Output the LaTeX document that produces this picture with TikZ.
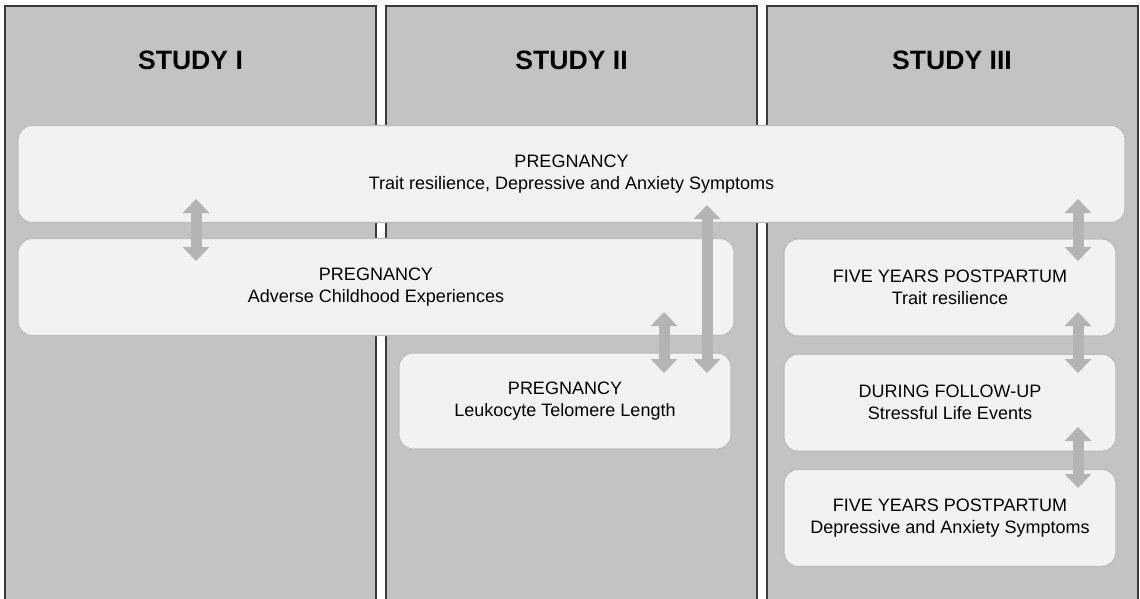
\documentclass[tikz,border=0pt]{standalone}
\usepackage{fontspec}
\setmainfont{Liberation Sans}
\usetikzlibrary{positioning, arrows.meta, calc}
\definecolor{colfill}{HTML}{C3C3C3}
\definecolor{colline}{HTML}{3A3A3A}
\definecolor{boxfill}{HTML}{F2F2F2}
\definecolor{boxline}{HTML}{BDBDBD}
\definecolor{arrowgray}{HTML}{B4B4B4}
\tikzset{
  column/.style={rectangle, draw=colline, line width=1pt, fill=colfill, minimum width=185.5pt, minimum height=320pt, anchor=north, inner sep=0pt},
  heading/.style={font=\fontsize{13.3}{16}\selectfont\bfseries},
  period/.style={rectangle, rounded corners=7pt, draw=boxline, line width=0.6pt, fill=boxfill, align=center, minimum width=166pt, minimum height=48.5pt, font=\fontsize{9}{11}\selectfont},
  biarrow/.style={draw=arrowgray, line width=5.5pt, {Triangle[length=7pt,width=13pt]}-{Triangle[length=7pt,width=13pt]}}
}
\begin{document}
\begin{tikzpicture}[x=0.5pt, y=-0.5pt]
  \useasboundingbox (0,0) rectangle (1140,599);
  \clip (0,0) rectangle (1140,599);

  % --- Columnas ---
  \node (col1) [column] at (190.5,5) {};
  \node (col2) [column] at (571.5,5) {};
  \node (col3) [column] at (952,5) {};
  \node (study1) [heading] at ([yshift=-27.5pt]col1.north) {STUDY I};
  \node (study2) [heading] at ([yshift=-27.5pt]col2.north) {STUDY II};
  \node (study3) [heading] at ([yshift=-27.5pt]col3.north) {STUDY III};

  % --- Periodos ---
  \node (preg) [period, minimum width=553.5pt] at (571.5,174) {PREGNANCY\\Trait resilience, Depressive and Anxiety Symptoms};
  \node (ace) [period, minimum width=358pt] at (376,287) {PREGNANCY\\Adverse Childhood Experiences};
  \node (ltl) [period, minimum height=48pt] at (565,401) {PREGNANCY\\Leukocyte Telomere Length};

  \node (res5) [period] at (950,287.5) {FIVE YEARS POSTPARTUM\\Trait resilience};
  \node (sle) [period, below=8.5pt of res5] {DURING FOLLOW-UP\\Stressful Life Events};
  \node (das5) [period, below=8.5pt of sle] {FIVE YEARS POSTPARTUM\\Depressive and Anxiety Symptoms};

  % --- Flechas ---
  \coordinate (preg_ace_t) at (196,199);
  \coordinate (preg_ace_b) at (196,261);
  \coordinate (preg_ltl_t) at (707,205);
  \coordinate (preg_ltl_b) at (707,373);
  \coordinate (ace_ltl_t) at (664,312);
  \coordinate (ace_ltl_b) at (664,373);
  \coordinate (preg_res_t) at (1078,199);
  \coordinate (preg_res_b) at (1078,261);
  \coordinate (res_sle_t) at (1078,312);
  \coordinate (res_sle_b) at (1078,373);
  \coordinate (sle_das_t) at (1078,427);
  \coordinate (sle_das_b) at (1078,488);

  \draw [biarrow] (preg_ace_t) -- (preg_ace_b);
  \draw [biarrow] (preg_ltl_t) -- (preg_ltl_b);
  \draw [biarrow] (ace_ltl_t) -- (ace_ltl_b);
  \draw [biarrow] (preg_res_t) -- (preg_res_b);
  \draw [biarrow] (res_sle_t) -- (res_sle_b);
  \draw [biarrow] (sle_das_t) -- (sle_das_b);
\end{tikzpicture}
\end{document}
